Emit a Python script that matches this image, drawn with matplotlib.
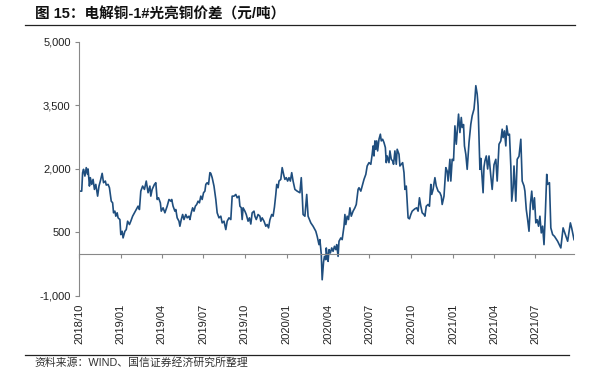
import matplotlib
matplotlib.use("Agg")
import matplotlib.pyplot as plt
import matplotlib.dates as mdates
import pandas as pd

plt.rcParams['font.family'] = ['Liberation Sans', 'Noto Sans CJK SC', 'DejaVu Sans']

title = "图 15：电解铜-1#光亮铜价差（元/吨）"
source = "资料来源：WIND、国信证券经济研究所整理"

dates = [
    "2018-10-01", "2018-10-07", "2018-10-09", "2018-10-11", "2018-10-14", "2018-10-17", "2018-10-20", "2018-10-21",
    "2018-10-24", "2018-10-26", "2018-10-29", "2018-11-01", "2018-11-04", "2018-11-07", "2018-11-11", "2018-11-14",
    "2018-11-17", "2018-11-21", "2018-11-24", "2018-11-28", "2018-11-30", "2018-12-04", "2018-12-07", "2018-12-11",
    "2018-12-14", "2018-12-16", "2018-12-19", "2018-12-21", "2018-12-24", "2018-12-26", "2018-12-30", "2019-01-01",
    "2019-01-04", "2019-01-06", "2019-01-10", "2019-01-13", "2019-01-16", "2019-01-20", "2019-01-23", "2019-01-27",
    "2019-01-31", "2019-02-04", "2019-02-08", "2019-02-11", "2019-02-14", "2019-02-18", "2019-02-22", "2019-02-26",
    "2019-03-02", "2019-03-06", "2019-03-08", "2019-03-11", "2019-03-16", "2019-03-19", "2019-03-22", "2019-03-25",
    "2019-03-29", "2019-03-31", "2019-04-04", "2019-04-08", "2019-04-13", "2019-04-17", "2019-04-21", "2019-04-23",
    "2019-04-26", "2019-04-30", "2019-05-02", "2019-05-05", "2019-05-09", "2019-05-11", "2019-05-14", "2019-05-17",
    "2019-05-20", "2019-05-24", "2019-05-27", "2019-05-31", "2019-06-02", "2019-06-05", "2019-06-08", "2019-06-11",
    "2019-06-14", "2019-06-17", "2019-06-20", "2019-06-23", "2019-06-26", "2019-06-29", "2019-07-02", "2019-07-05",
    "2019-07-07", "2019-07-10", "2019-07-13", "2019-07-16", "2019-07-18", "2019-07-21", "2019-07-25", "2019-07-29",
    "2019-08-01", "2019-08-05", "2019-08-09", "2019-08-12", "2019-08-16", "2019-08-20", "2019-08-23", "2019-08-27",
    "2019-08-31", "2019-09-03", "2019-09-07", "2019-09-11", "2019-09-14", "2019-09-18", "2019-09-20", "2019-09-23",
    "2019-09-25", "2019-09-27", "2019-10-01", "2019-10-04", "2019-10-08", "2019-10-11", "2019-10-14", "2019-10-17",
    "2019-10-21", "2019-10-23", "2019-10-26", "2019-10-30", "2019-11-03", "2019-11-05", "2019-11-08", "2019-11-12",
    "2019-11-16", "2019-11-19", "2019-11-22", "2019-11-25", "2019-11-29", "2019-12-02", "2019-12-05", "2019-12-08",
    "2019-12-10", "2019-12-13", "2019-12-15", "2019-12-19", "2019-12-22", "2019-12-26", "2019-12-28", "2019-12-31",
    "2020-01-03", "2020-01-06", "2020-01-09", "2020-01-12", "2020-01-15", "2020-01-19", "2020-01-24", "2020-01-30",
    "2020-02-02", "2020-02-04", "2020-02-06", "2020-02-10", "2020-02-14", "2020-02-17", "2020-02-23", "2020-02-28",
    "2020-03-05", "2020-03-08", "2020-03-12", "2020-03-14", "2020-03-17", "2020-03-19", "2020-03-22", "2020-03-24",
    "2020-03-27", "2020-03-28", "2020-03-30", "2020-04-01", "2020-04-03", "2020-04-06", "2020-04-09", "2020-04-12",
    "2020-04-15", "2020-04-18", "2020-04-20", "2020-04-23", "2020-04-25", "2020-04-29", "2020-05-02", "2020-05-06",
    "2020-05-08", "2020-05-10", "2020-05-13", "2020-05-16", "2020-05-19", "2020-05-22", "2020-05-26", "2020-05-30",
    "2020-06-02", "2020-06-06", "2020-06-08", "2020-06-12", "2020-06-15", "2020-06-19", "2020-06-23", "2020-06-26",
    "2020-06-30", "2020-07-04", "2020-07-07", "2020-07-09", "2020-07-11", "2020-07-13", "2020-07-15", "2020-07-17",
    "2020-07-19", "2020-07-22", "2020-07-25", "2020-07-27", "2020-07-30", "2020-08-02", "2020-08-05", "2020-08-07",
    "2020-08-09", "2020-08-13", "2020-08-15", "2020-08-18", "2020-08-21", "2020-08-23", "2020-08-26", "2020-08-29",
    "2020-08-31", "2020-09-04", "2020-09-06", "2020-09-09", "2020-09-12", "2020-09-15", "2020-09-17", "2020-09-20",
    "2020-09-22", "2020-09-24", "2020-09-27", "2020-09-30", "2020-10-03", "2020-10-09", "2020-10-13", "2020-10-16",
    "2020-10-19", "2020-10-22", "2020-10-25", "2020-10-29", "2020-10-31", "2020-11-03", "2020-11-07", "2020-11-10",
    "2020-11-13", "2020-11-15", "2020-11-18", "2020-11-22", "2020-11-25", "2020-11-29", "2020-12-03", "2020-12-06",
    "2020-12-08", "2020-12-12", "2020-12-16", "2020-12-19", "2020-12-21", "2020-12-25", "2020-12-27", "2020-12-30",
    "2021-01-02", "2021-01-05", "2021-01-08", "2021-01-13", "2021-01-16", "2021-01-19", "2021-01-21", "2021-01-24",
    "2021-01-26", "2021-01-29", "2021-02-01", "2021-02-05", "2021-02-09", "2021-02-12", "2021-02-16", "2021-02-18",
    "2021-02-20", "2021-02-23", "2021-02-25", "2021-02-27", "2021-03-01", "2021-03-03", "2021-03-06", "2021-03-08",
    "2021-03-10", "2021-03-12", "2021-03-15", "2021-03-18", "2021-03-21", "2021-03-25", "2021-03-28", "2021-04-01",
    "2021-04-05", "2021-04-08", "2021-04-12", "2021-04-16", "2021-04-19", "2021-04-21", "2021-04-24", "2021-04-27",
    "2021-04-29", "2021-05-02", "2021-05-05", "2021-05-08", "2021-05-10", "2021-05-13", "2021-05-15", "2021-05-19",
    "2021-05-22", "2021-05-26", "2021-05-30", "2021-06-02", "2021-06-06", "2021-06-08", "2021-06-11", "2021-06-14",
    "2021-06-17", "2021-06-20", "2021-06-23", "2021-06-26", "2021-06-29", "2021-07-02", "2021-07-05", "2021-07-08",
    "2021-07-11", "2021-07-14", "2021-07-17", "2021-07-20", "2021-07-23", "2021-07-26", "2021-07-28", "2021-08-01",
    "2021-08-04", "2021-08-08", "2021-08-12", "2021-08-19", "2021-08-26", "2021-08-31", "2021-09-05", "2021-09-10",
    "2021-09-16", "2021-09-19", "2021-09-24",
]

spread = [
    1477, 1477, 1913, 1992, 1833, 2032, 1873, 2000,
    1596, 1795, 1636, 1755, 1518, 1636, 1359, 1596,
    1715, 1897, 1676, 1715, 1620, 1636, 1557, 1240,
    1201, 965, 1004, 885, 965, 846, 806, 450,
    529, 372, 529, 569, 767, 688, 767, 885,
    965, 1043, 1122, 1043, 1477, 1596, 1518, 1715,
    1439, 1596, 1359, 1518, 1636, 1676, 1280, 1320,
    1201, 1004, 1083, 965, 1122, 1280, 1240, 1280,
    1122, 1004, 1043, 846, 767, 648, 806, 925,
    806, 925, 846, 885, 806, 965, 1083, 1004,
    1122, 1162, 1240, 1201, 1359, 1280, 1439, 1477,
    1636, 1676, 1636, 1913, 1897, 1795, 1596, 1280,
    965, 846, 885, 727, 767, 569, 767, 846,
    806, 1359, 1359, 1399, 1320, 1359, 1122, 1083,
    806, 1083, 1004, 925, 767, 846, 700, 965,
    1004, 885, 806, 925, 885, 767, 846, 767,
    648, 688, 609, 800, 925, 885, 1100, 1400,
    1636, 1557, 1715, 1755, 2032, 1833, 1755, 1795,
    1715, 1795, 1715, 1913, 1715, 1518, 1477, 1439,
    1795, 1399, 925, 885, 1399, 885, 727, 648,
    529, 410, 213, 332, -12, -617, -200, -64,
    -143, 135, -50, -182, 95, 16, 135, 55,
    174, 95, 214, -64, 293, 372, 332, 648,
    925, 688, 885, 806, 1083, 885, 1004, 1083,
    1162, 1518, 1557, 1477, 1596, 1755, 1873, 2071,
    2150, 2111, 2348, 2545, 2308, 2664, 2466, 2664,
    2427, 2703, 2822, 2664, 2703, 2624, 2506, 2150,
    2308, 2150, 2427, 2229, 2190, 2111, 2427, 2111,
    2466, 2348, 2071, 2111, 2150, 1913, 1518, 1596,
    1201, 846, 822, 925, 1004, 1060, 1083, 1004,
    1320, 1122, 965, 925, 885, 1122, 1162, 1120,
    1636, 1399, 1518, 1795, 1596, 1477, 1439, 1359,
    1162, 1359, 2032, 1950, 1715, 2229, 1715, 2229,
    2200, 3019, 2585, 3296, 2861, 3217, 2980, 3050,
    2545, 2348, 1992, 2624, 3059, 3257, 3415, 3652,
    3968, 3770, 3494, 2703, 1992, 2250, 1755, 1439,
    2050, 2190, 2308, 2000, 2308, 1833, 1518, 2100,
    2229, 1715, 2585, 2664, 2940, 2742, 2900, 2545,
    3019, 2800, 2822, 2071, 1240, 1557, 2071, 1240,
    2229, 2300, 2703, 1715, 1600, 1477, 1043, 806,
    529, 1162, 1477, 1043, 1320, 727, 800, 648,
    885, 490, 650, 213, 965, 1873, 1636, 1676,
    609, 450, 410, 293, 135, 609, 450, 293,
    727, 600, 332,
]

tick_months = ["2018-10-01", "2019-01-01", "2019-04-01", "2019-07-01", "2019-10-01",
               "2020-01-01", "2020-04-01", "2020-07-01", "2020-10-01", "2021-01-01",
               "2021-04-01", "2021-07-01"]
y_ticks = [-1000, 500, 2000, 3500, 5000]

x = pd.to_datetime(dates)

fig = plt.figure(figsize=(6.02, 3.76), dpi=100)
ax = fig.add_axes([0.1312, 0.2128, 0.8223, 0.6755])

ax.plot(x, spread, color="#1F4E7E", lw=1.2, solid_joinstyle="round")

ax.set_ylim(-1000, 5000)
ax.set_xlim(x[0], x[-1])
ax.set_yticks(y_ticks)
ax.set_yticklabels([f"{v:,}" for v in y_ticks])

ax.set_xticks(pd.to_datetime(tick_months))
ax.xaxis.set_major_formatter(mdates.DateFormatter("%Y/%m"))

for s in ["top", "right"]:
    ax.spines[s].set_visible(False)
ax.spines["left"].set_color("#888888")
ax.spines["left"].set_linewidth(0.8)
ax.spines["bottom"].set_position(("data", 0))
ax.spines["bottom"].set_color("#888888")
ax.spines["bottom"].set_linewidth(0.8)

ax.tick_params(axis="y", direction="out", length=3, width=0.8, color="#888888",
               labelsize=8, labelcolor="#222222", pad=3)
ax.tick_params(axis="x", direction="out", length=3, width=0.8, color="#888888",
               labelsize=8, labelcolor="#222222", pad=33, labelrotation=90)

fig.text(0.058, 0.962, title, fontsize=10.5, fontweight="bold", ha="left", va="center",
         family=["Liberation Sans", "Noto Sans CJK SC"], color="#111111")
fig.text(0.058, 0.035, source, fontsize=7.8, ha="left", va="center",
         family=["Liberation Sans", "Noto Sans CJK SC"], color="#333333")

fig.add_artist(plt.Line2D([0.042, 0.955], [1 - 25/376, 1 - 25/376], color="#222222", lw=0.9))
fig.add_artist(plt.Line2D([0.042, 0.945], [1 - 355/376, 1 - 355/376], color="#222222", lw=0.9))

fig.savefig("out.png", dpi=100)
